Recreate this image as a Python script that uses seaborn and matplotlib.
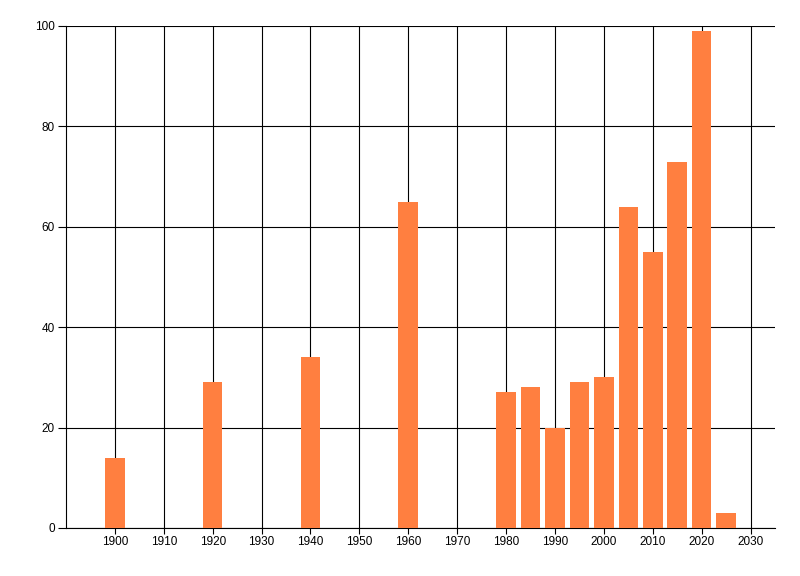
import matplotlib
matplotlib.use("Agg")
import matplotlib.pyplot as plt
import seaborn as sns
import pandas as pd

years = [1900, 1920, 1940, 1960, 1980, 1985, 1990, 1995, 2000, 2005, 2010, 2015, 2020, 2025]
values = [14, 29, 34, 65, 27, 28, 20, 29, 30, 64, 55, 73, 99, 3]
x_ticks = list(range(1900, 2031, 10))
y_ticks = [0, 20, 40, 60, 80, 100]

sns.set_style("white")
plt.rcParams['font.family'] = ['Liberation Sans', 'DejaVu Sans']

df = pd.DataFrame({"year": years, "value": values})

fig = plt.figure(figsize=(8, 5.76), dpi=100)
ax = fig.add_axes([66/800, 1 - 528/576, (775 - 66)/800, (528 - 26)/576])

sns.barplot(data=df, x="year", y="value", native_scale=True, width=0.8,
            color="#FF7F40", saturation=1, ax=ax, zorder=3, linewidth=0)

ax.set_xlim(1890, 2035)
ax.set_ylim(0, 100)
ax.set_xticks(x_ticks)
ax.set_xticklabels([str(t) for t in x_ticks])
ax.set_yticks(y_ticks)
ax.set_yticklabels([str(t) for t in y_ticks])
ax.set_xlabel("")
ax.set_ylabel("")

ax.grid(True, color="black", linewidth=0.8, zorder=0)
ax.set_axisbelow(True)

for s in ["top", "right"]:
    ax.spines[s].set_visible(False)
for s in ["left", "bottom"]:
    ax.spines[s].set_color("black")
    ax.spines[s].set_linewidth(0.8)

ax.tick_params(axis="y", direction="out", length=6, width=0.8, color="black",
               labelcolor="black", labelsize=8.5, pad=2, left=True)
ax.tick_params(axis="x", direction="out", length=4, width=0.8, color="black",
               labelcolor="black", labelsize=8.5, pad=2, bottom=True)

fig.savefig("out.png", dpi=100)
